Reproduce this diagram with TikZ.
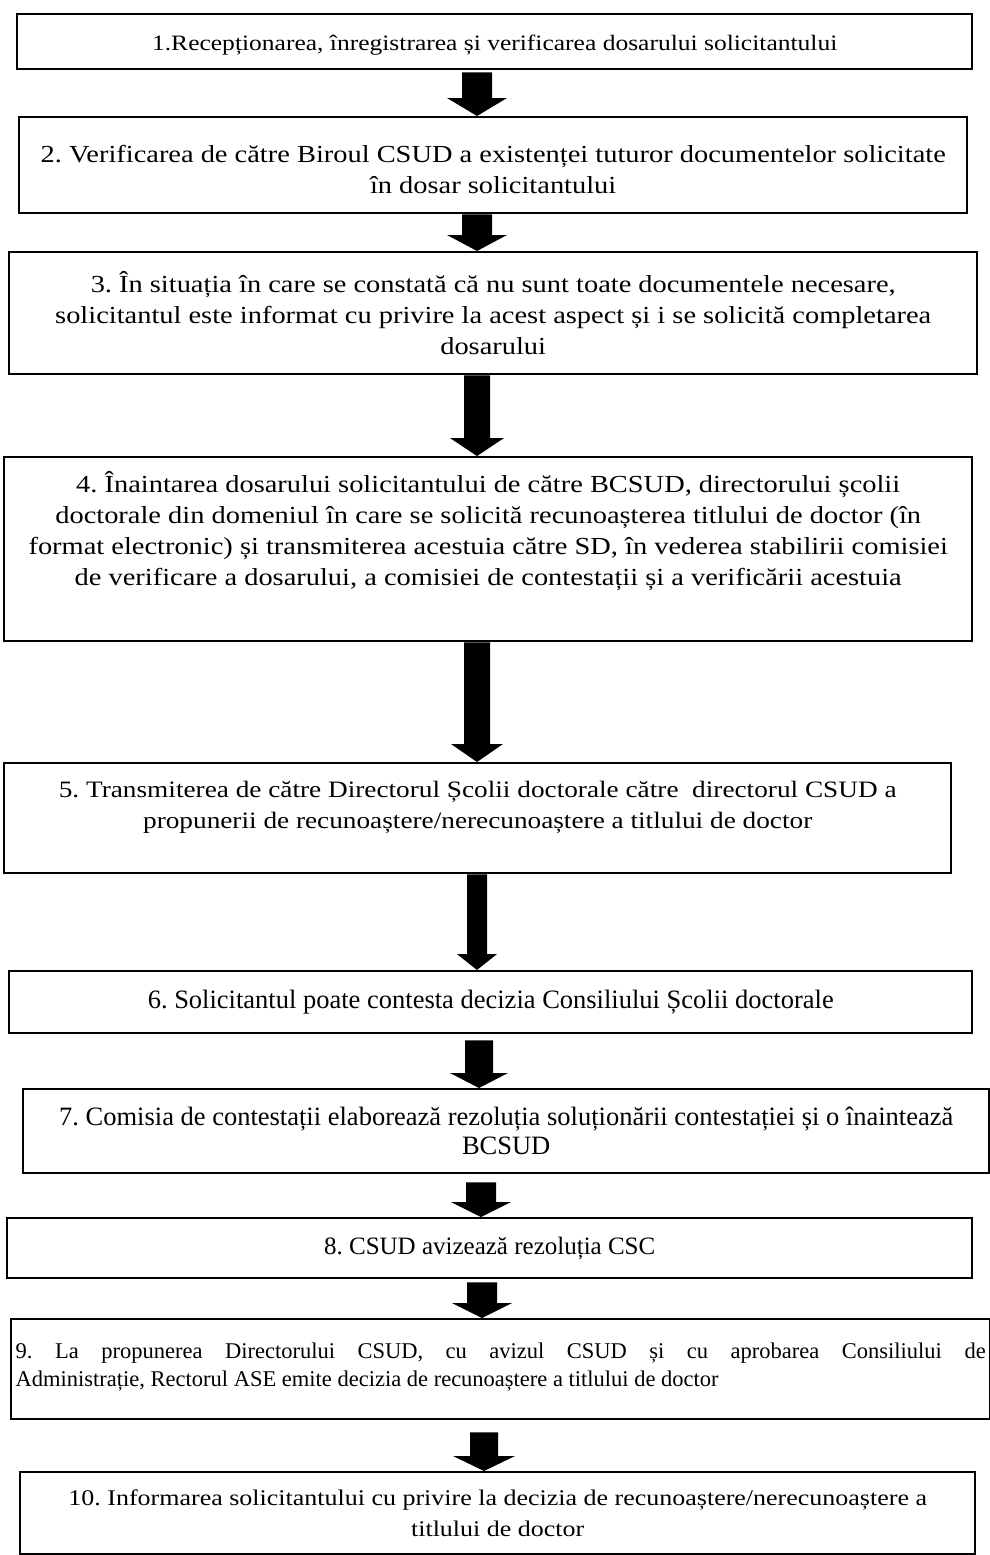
\documentclass[tikz,border=0pt]{standalone}
\usepackage{fontspec}
\setmainfont{Liberation Serif}
\newfontfamily\cambria[FakeStretch=1.16]{Liberation Serif}
\usetikzlibrary{calc}
\tolerance=10000
\hyphenpenalty=10000
\frenchspacing
% #1 from node, #2 to node, #3 x centre, #4 shaft half width, #5 head half width, #6 head length, #7 gap below source
\newcommand\fatarrow[7]{%
  \path (#3,0 |- #1.south) coordinate (#1-out) (#3,0 |- #2.north) coordinate (#2-in);
  \fill[black] let \p1=(#1-out), \p2=(#2-in) in
    (\x1-#4pt,\y1-#7pt) -- (\x1+#4pt,\y1-#7pt) -- (\x1+#4pt,\y2+#6pt) -- (\x1+#5pt,\y2+#6pt)
    -- (\x2,\y2) -- (\x1-#5pt,\y2+#6pt) -- (\x1-#4pt,\y2+#6pt) -- cycle;
}
\begin{document}
\begin{tikzpicture}[x=1pt,y=-1pt,
  box/.style={draw=black, line width=2.4pt, fill=white, inner sep=0pt, anchor=north west},
  cam/.style={font=\cambria\fontsize{22.4}{30.5}\selectfont, align=center, inner sep=0pt},
  camL/.style={font=\cambria\fontsize{24.5}{31}\selectfont, align=center, inner sep=0pt},
  tim/.style={font=\fontsize{22.5}{28.5}\selectfont, align=center, inner sep=0pt}]
\useasboundingbox (0,0) rectangle (990,1555);
\fill[white] (0,0) rectangle (990,1555);

\node[box, minimum width=955pt, minimum height=55pt] (b1) at (16,13) {};
\node[box, minimum width=948pt, minimum height=96pt] (b2) at (18,116) {};
\node[box, minimum width=968pt, minimum height=122pt] (b3) at (8,251) {};
\node[box, minimum width=968pt, minimum height=184pt] (b4) at (3,456) {};
\node[box, minimum width=947pt, minimum height=110pt] (b5) at (3,762) {};
\node[box, minimum width=963pt, minimum height=62pt] (b6) at (8,970) {};
\node[box, minimum width=966pt, minimum height=84pt] (b7) at (22,1088) {};
\node[box, minimum width=965pt, minimum height=60pt] (b8) at (6,1217) {};
\node[box, minimum width=979pt, minimum height=100pt] (b9) at (10,1318) {};
\node[box, minimum width=955pt, minimum height=82pt] (b10) at (19,1471) {};

\node[cam, font=\cambria\fontsize{22}{30.5}\selectfont] (t1) at ([yshift=-3pt]b1.center) {1.Recepționarea, înregistrarea și verificarea dosarului solicitantului};
\node[camL] (t2) at ([yshift=-4pt]b2.center) {2. Verificarea de către Biroul CSUD a existenței tuturor documentelor solicitate\\în dosar solicitantului};
\node[camL] (t3) at (b3.center) {3. În situația în care se constată că nu sunt toate documentele necesare,\\solicitantul este informat cu privire la acest aspect și i se solicită completarea\\dosarului};
\node[camL, anchor=north] (t4) at ([yshift=-15pt]b4.north) {4. Înaintarea dosarului solicitantului de către BCSUD, directorului școlii\\doctorale din domeniul în care se solicită recunoașterea titlului de doctor (în\\format electronic) și transmiterea acestuia către SD, în vederea stabilirii comisiei\\de verificare a dosarului, a comisiei de contestații și a verificării acestuia};
\node[camL, font=\cambria\fontsize{23.5}{31}\selectfont, anchor=north] (t5) at ([yshift=-19pt]b5.north) {5. Transmiterea de către Directorul Școlii doctorale către~ directorul CSUD a\\propunerii de recunoaștere/nerecunoaștere a titlului de doctor};
\node[tim, font=\fontsize{26.5}{30}\selectfont] (t6) at (b6.center) {6. Solicitantul poate contesta decizia Consiliului Școlii doctorale};
\node[tim, font=\fontsize{26.5}{29}\selectfont] (t7) at (b7.center) {7. Comisia de contestații elaborează rezoluția soluționării contestației și o înaintează\\BCSUD};
\node[tim, font=\fontsize{25}{29}\selectfont] (t8) at (b8.center) {8. CSUD avizează rezoluția CSC};
\node[tim, align=justify, text width=970pt] (t9) at ([yshift=2pt]b9.center) {9. La propunerea Directorului CSUD, cu avizul CSUD și cu aprobarea Consiliului de\linebreak Administrație, Rectorul ASE emite decizia de recunoaștere a titlului de doctor};
\node[cam] (t10) at (b10.center) {10. Informarea solicitantului cu privire la decizia de recunoaștere/nerecunoaștere a\\titlului de doctor};

\fatarrow{b1}{b2}{477}{15}{30}{18}{2}
\fatarrow{b2}{b3}{477}{15}{30}{16}{0}
\fatarrow{b3}{b4}{477}{13}{27}{18}{0}
\fatarrow{b4}{b5}{477}{13}{26}{18}{0}
\fatarrow{b5}{b6}{477}{10}{20}{16}{0}
\fatarrow{b6}{b7}{479}{14}{29}{15}{6}
\fatarrow{b7}{b8}{481}{15}{30}{15}{8}
\fatarrow{b8}{b9}{482}{15}{30}{15}{3}
\fatarrow{b9}{b10}{484}{14}{31}{15}{12}
\end{tikzpicture}
\end{document}
